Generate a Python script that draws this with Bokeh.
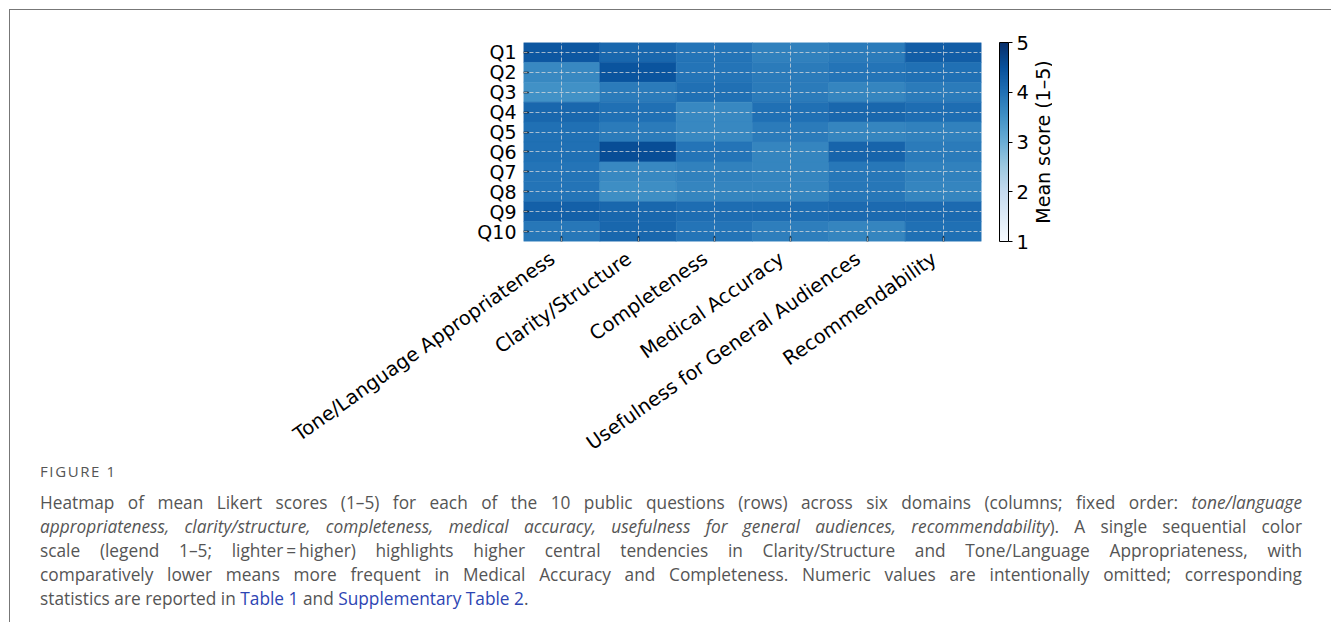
import math
from bokeh.plotting import figure
from bokeh.models import (ColumnDataSource, LinearColorMapper, ColorBar, FixedTicker,
                          Div, FactorRange, Range1d, LinearAxis)
from bokeh.core.properties import value
from bokeh.transform import transform
from bokeh.palettes import Blues256
from bokeh.layouts import column, row
from bokeh.embed import file_html
from bokeh.resources import INLINE

# ---------------- data ----------------
questions = ["Q1", "Q2", "Q3", "Q4", "Q5", "Q6", "Q7", "Q8", "Q9", "Q10"]
domains = ["Tone/Language Appropriateness", "Clarity/Structure", "Completeness",
           "Medical Accuracy", "Usefulness for General Audiences", "Recommendability"]

tone = [4.40, 3.65, 3.50, 4.15, 4.00, 4.00, 3.95, 3.95, 4.25, 3.90]
clarity = [4.15, 4.45, 3.85, 4.00, 3.85, 4.55, 3.65, 3.55, 4.15, 4.15]
completeness = [3.95, 3.95, 4.00, 3.65, 3.65, 3.95, 3.75, 3.70, 4.05, 3.95]
medical = [3.75, 3.85, 3.85, 4.00, 3.85, 3.70, 3.70, 3.70, 4.05, 3.80]
usefulness = [3.85, 3.95, 3.70, 4.15, 3.70, 4.20, 3.90, 3.90, 4.10, 3.70]
recommend = [4.30, 4.00, 3.85, 4.05, 3.75, 3.85, 3.75, 3.70, 4.10, 4.00]

cbar_ticks = [1, 2, 3, 4, 5]
score_low, score_high = 1, 5
cbar_title = "Mean score (1\u20135)"

series = [tone, clarity, completeness, medical, usefulness, recommend]
col_pos = [i + 0.5 for i in range(len(domains))]      # column centres on the x scale
xs, ys, vals = [], [], []
for cx, col in zip(col_pos, series):
    for q, v in zip(questions, col):
        xs.append(cx)
        ys.append(q)
        vals.append(v)
source = ColumnDataSource(dict(x=xs, question=ys, value=vals))

# ---------------- main heatmap figure ----------------
B_LEFT, FRAME_W, B_TOP, FRAME_H, B_BOTTOM = 513, 458, 32, 199, 232
H = B_TOP + FRAME_H + B_BOTTOM
W_MAIN = 1022
font = "DejaVu Sans"

p = figure(width=W_MAIN, height=H, output_backend="svg", toolbar_location=None,
           x_range=Range1d(0, len(domains)), y_range=FactorRange(*reversed(questions)),
           min_border_left=B_LEFT, min_border_right=W_MAIN - B_LEFT - FRAME_W,
           min_border_top=B_TOP, min_border_bottom=B_BOTTOM)
p.outline_line_color = None

mapper = LinearColorMapper(palette=list(reversed(Blues256)), low=score_low, high=score_high)
p.rect(x="x", y="question", width=1, height=1, source=source,
       fill_color=transform("value", mapper), line_color=transform("value", mapper),
       line_width=0.6)

p.xaxis.ticker = FixedTicker(ticks=col_pos)
for ax in (p.xaxis, p.yaxis):
    ax.axis_line_color = None
    ax.major_tick_in = 5
    ax.major_tick_out = 0
    ax.minor_tick_in = 0
    ax.minor_tick_out = 0
    ax.major_tick_line_color = "black"
    ax.major_tick_line_width = 1.5
    ax.major_label_text_font = font
    ax.major_label_text_color = "black"
p.yaxis.major_label_text_font_size = "19px"
p.yaxis.major_label_standoff = 7
# default x axis keeps only the tick marks; the rotated names come from the axis below
p.xaxis.major_label_text_color = None
p.xaxis.major_label_text_font_size = "0px"
p.xaxis.major_label_standoff = 0

# label axis: names right-aligned under the ticks, the way the original lays them out
label_shift = 0.118
p.extra_x_ranges = {"labels": Range1d(label_shift, len(domains) + label_shift)}
lab_axis = LinearAxis(x_range_name="labels", ticker=FixedTicker(ticks=col_pos),
                      major_label_overrides={t: d for t, d in zip(col_pos, domains)},
                      axis_line_color=None, major_tick_in=0, major_tick_out=0,
                      minor_tick_in=0, minor_tick_out=0,
                      major_label_text_font=font, major_label_text_font_size="19.5px",
                      major_label_text_color="black", major_label_standoff=15,
                      major_label_orientation=math.radians(35))
p.add_layout(lab_axis, "below")

p.grid.level = "overlay"
p.grid.grid_line_color = "#e0e0e0"
p.grid.grid_line_alpha = 0.7
p.grid.grid_line_dash = "4 2"
p.grid.grid_line_width = 1

cb = ColorBar(color_mapper=mapper, width=9, height=FRAME_H, padding=0,
              location=(18, 0),
              ticker=FixedTicker(ticks=cbar_ticks),
              major_tick_in=0, major_tick_out=4, major_tick_line_color="black",
              bar_line_color="black", bar_line_width=1,
              major_label_text_font=font, major_label_text_font_size="19.5px",
              major_label_text_color="black", label_standoff=4,
              border_line_color=None, background_fill_color=None)
p.add_layout(cb, "right")

# ---------------- narrow figure carrying the colour-bar title ----------------
pt = figure(width=20, height=H, output_backend="svg", toolbar_location=None,
            x_range=Range1d(0, 1), y_range=Range1d(0, 1),
            min_border_left=0, min_border_right=0,
            min_border_top=B_TOP, min_border_bottom=B_BOTTOM,
            x_axis_type=None, y_axis_type=None)
pt.outline_line_color = None
pt.grid.visible = False
pt.text(x=[0.5], y=[0.5], text=[cbar_title], angle=math.pi / 2,
        text_font=value(font), text_font_size="19px", text_color="black",
        text_align="center", text_baseline="middle")

# ---------------- caption ----------------
blue = "#2d45b3"
lines = [
    "Heatmap of mean Likert scores (1\u20135) for each of the 10 public questions (rows) across six "
    "domains (columns; fixed order: <i>tone/language</i>",
    "<i>appropriateness, clarity/structure, completeness, medical accuracy, usefulness for general "
    "audiences, recommendability</i>). A single sequential color",
    "scale (legend 1\u20135; lighter\u2009=\u2009higher) highlights higher central tendencies in "
    "Clarity/Structure and Tone/Language Appropriateness, with",
    "comparatively lower means more frequent in Medical Accuracy and Completeness. Numeric values "
    "are intentionally omitted; corresponding",
]
last_line = ('statistics are reported in <span style="color:%s;">Table 1</span> and '
             '<span style="color:%s;">Supplementary Table 2</span>.' % (blue, blue))
body = "".join(
    '<div style="text-align:justify;text-align-last:justify;white-space:nowrap;">%s</div>' % ln
    for ln in lines) + '<div style="white-space:nowrap;">%s</div>' % last_line
caption_html = (
    '<div style="box-sizing:content-box;width:1262px;padding-left:25px;'
    'font-family:\'Open Sans\';color:#555;">'
    '<div style="font-size:15px;line-height:20px;margin-top:-17px;letter-spacing:1.6px;">FIGURE 1</div>'
    '<div style="font-size:17.3px;line-height:24px;margin-top:10px;">' + body + '</div></div>'
)
div = Div(text=caption_html, width=1320, height=145)

layout = column(row(p, pt, spacing=0), div, spacing=0, margin=(9, 0, 0, 9),
                styles={"border-top": "1px solid #777", "border-left": "1px solid #777"})

open("out.html", "w").write(file_html(layout, INLINE))
